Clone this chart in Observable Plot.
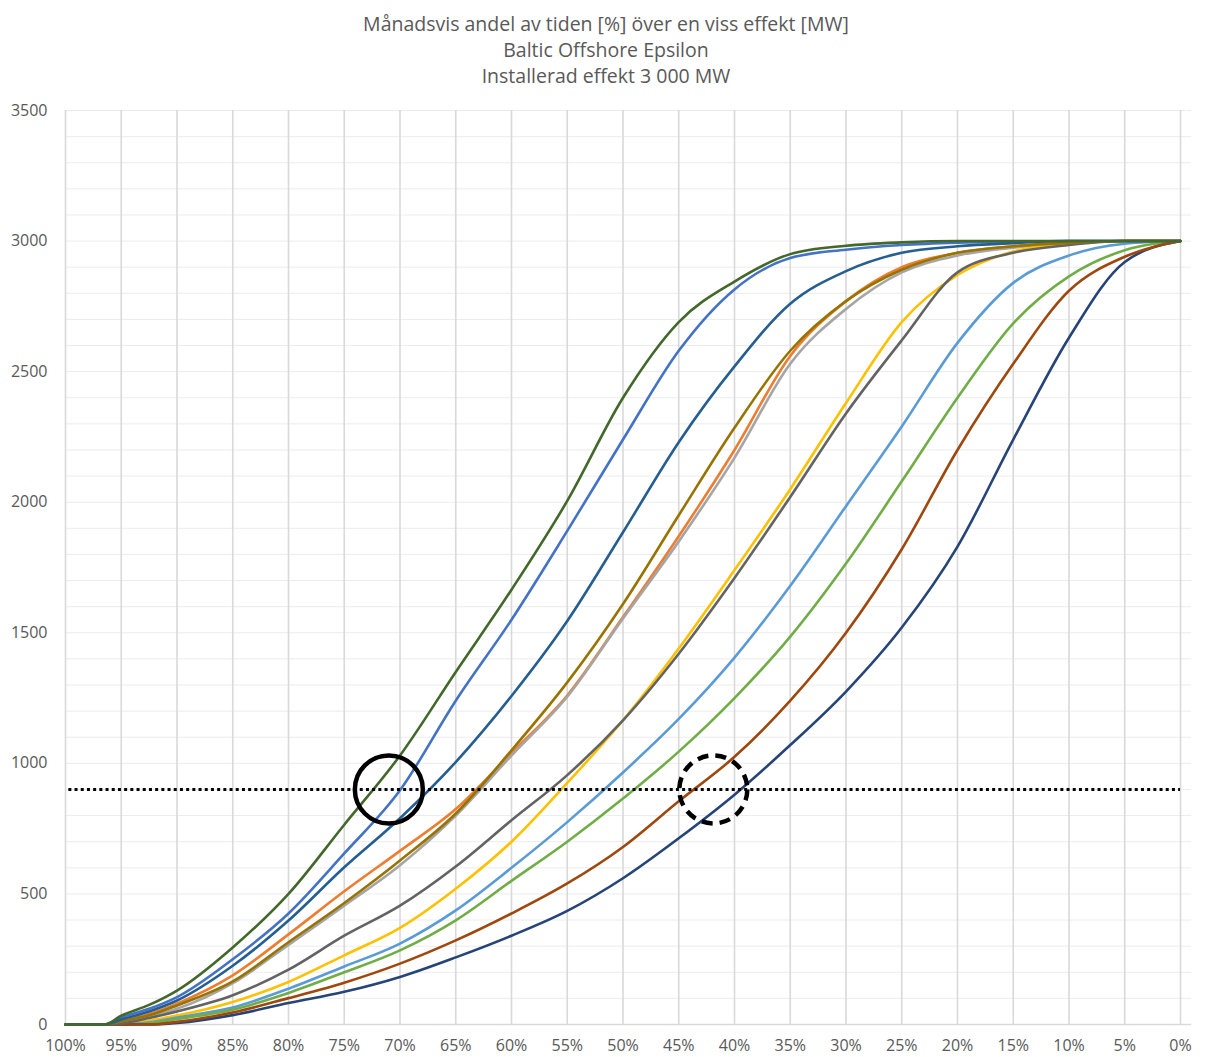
<!DOCTYPE html>
<html><head><meta charset="utf-8">
<script src="https://cdn.jsdelivr.net/npm/d3@7"></script>
<script src="https://cdn.jsdelivr.net/npm/@observablehq/plot@0.6"></script>
<style>
body{margin:0;background:#fff;font-family:"Open Sans",sans-serif;}
#title{width:1206px;height:96px;box-sizing:border-box;padding-top:11px;text-align:center;color:#595959;font-size:19.5px;line-height:26px;padding-left:6px;}
</style></head><body>
<div id="title"><div>Månadsvis andel av tiden [%] över en viss effekt [MW]</div><div>Baltic Offshore Epsilon</div><div>Installerad effekt 3 000 MW</div></div>
<div id="chart"></div>
<script>
// Share of time (%) — x positions of every series
const percent = [100, 96.5, 95, 92.5, 90, 85, 80, 75, 70, 65, 60, 55, 50, 45, 40, 35, 30, 25, 20, 15, 10, 5, 0];
const months = ["Jan","Feb","Mar","Apr","Maj","Jun","Jul","Aug","Sep","Okt","Nov","Dec"];
const monthColors = ["#4472C4","#ED7D31","#A5A5A5","#FFC000","#5B9BD5","#70AD47","#264478","#9E480E","#636363","#997300","#255E91","#43682B"];
// MW exceeded, per month
const jan = [0,0,27,60,105,250,425,655,897,1240,1550,1890,2240,2580,2815,2935,2967,2985,2994,2998,3000,3000,3000];
const feb = [0,0,12,40,80,188,345,510,665,825,1040,1260,1560,1870,2200,2560,2770,2900,2955,2980,2993,3000,3000];
const mar = [0,0,8,30,60,158,305,455,610,800,1030,1255,1555,1850,2170,2530,2740,2880,2945,2975,2990,3000,3000];
const apr = [0,0,0,15,34,86,163,265,370,520,700,925,1165,1440,1740,2050,2380,2690,2870,2960,2990,3000,3000];
const maj = [0,0,0,8,27,65,137,222,310,437,600,775,965,1170,1405,1680,1985,2290,2610,2840,2945,2990,3000];
const jun = [0,0,0,5,21,57,121,200,284,399,550,700,865,1045,1250,1485,1765,2080,2400,2685,2865,2965,3000];
const jul = [0,0,0,0,6,36,82,125,182,257,340,435,560,713,880,1070,1275,1520,1830,2240,2630,2920,3000];
const aug = [0,0,0,0,10,46,101,160,233,322,425,540,680,855,1025,1240,1500,1820,2200,2530,2810,2940,3000];
const sep = [0,0,4,25,50,112,210,340,455,605,782,955,1165,1420,1710,2020,2340,2620,2880,2955,2985,3000,3000];
const okt = [0,0,12,35,73,165,315,465,628,808,1050,1310,1610,1950,2285,2580,2770,2890,2955,2980,2993,3000,3000];
const nov = [0,0,19,50,92,225,398,602,790,1005,1258,1545,1885,2230,2520,2760,2885,2955,2980,2992,3000,3000,3000];
const dec = [0,0,34,75,130,295,500,765,1030,1350,1665,2005,2400,2690,2845,2950,2982,2995,3000,3000,3000,3000,3000];
const seriesValues = [jan,feb,mar,apr,maj,jun,jul,aug,sep,okt,nov,dec];

const xTicks = [100,95,90,85,80,75,70,65,60,55,50,45,40,35,30,25,20,15,10,5,0];
const yTicks = [0,500,1000,1500,2000,2500,3000,3500];
const yMinorGrid = d3.range(0, 3501, 100);
const threshold = [900];
const markers = [{p: 71.0, mw: 900, kind: "solid"}, {p: 41.9, mw: 900, kind: "dashed"}];

const rows = [];
months.forEach((m, i) => percent.forEach((p, j) => rows.push({month: m, p, mw: seriesValues[i][j]})));

const lineMarks = months.map((m, i) => Plot.line(rows.filter(r => r.month === m), {
  x: "p", y: "mw", stroke: monthColors[i], strokeWidth: 2.6, curve: "monotone-x"
}));

const chart = Plot.plot({
  width: 1206,
  height: 961,
  marginTop: 14,
  marginBottom: 33,
  marginLeft: 65,
  marginRight: 26,
  style: {fontFamily: "'Open Sans', sans-serif", fontSize: "16px", color: "#595959", background: "#fff"},
  x: {domain: [100, 0]},
  y: {domain: [0, 3500]},
  marks: [
    Plot.ruleY(yMinorGrid, {x1: 100, x2: -1, stroke: "#ececec", strokeWidth: 1}),
    Plot.ruleX(xTicks, {y1: 0, y2: 3500, stroke: "#d9d9d9", strokeWidth: 1.6}),
    Plot.ruleY([0], {x1: 100, x2: -1, stroke: "#d9d9d9", strokeWidth: 1.6}),
    ...lineMarks,
    Plot.ruleY(threshold, {x1: 99.7, x2: 0, stroke: "#000", strokeWidth: 3, strokeDasharray: "3,3.2"}),
    Plot.dot(markers.filter(d => d.kind === "solid"), {x: "p", y: "mw", r: 34, stroke: "#000", strokeWidth: 4.5, fill: "none"}),
    Plot.dot(markers.filter(d => d.kind === "dashed"), {x: "p", y: "mw", r: 34, stroke: "#000", strokeWidth: 4.5, fill: "none", strokeDasharray: "11,7"}),
    Plot.axisX(xTicks, {tickSize: 0, tickPadding: 15, tickFormat: d => d + "%", fill: "#595959", label: null}),
    Plot.axisY(yTicks, {tickSize: 0, tickPadding: 18, tickFormat: d => String(d), fill: "#595959", label: null})
  ]
});
document.getElementById("chart").appendChild(chart);
</script>
</body></html>
